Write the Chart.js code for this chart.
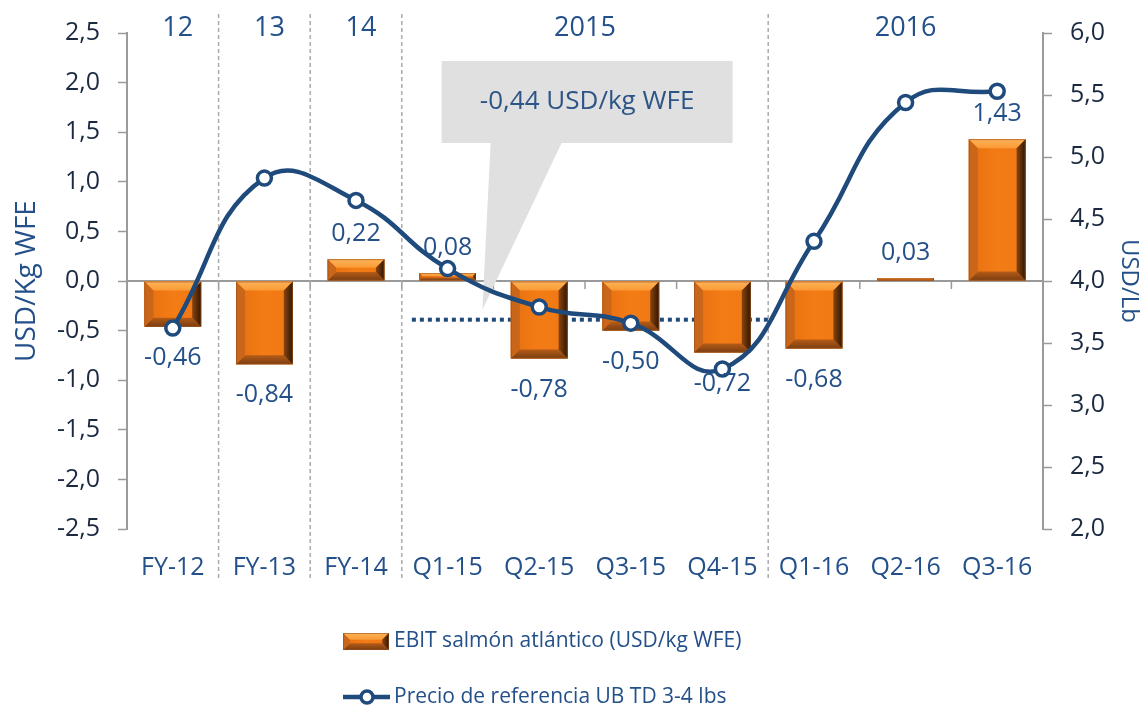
<!DOCTYPE html>
<html>
<head>
<meta charset="utf-8">
<script src="https://cdn.jsdelivr.net/npm/chart.js@4"></script>
<style>
  html, body { margin: 0; padding: 0; background: #fff; }
  #wrap { width: 1143px; height: 710px; }
</style>
</head>
<body>
<div id="wrap"><canvas id="myChart" width="1143" height="710"></canvas></div>
<script>
let categories = ['FY-12', 'FY-13', 'FY-14', 'Q1-15', 'Q2-15', 'Q3-15', 'Q4-15', 'Q1-16', 'Q2-16', 'Q3-16']
let ebit = [-0.46, -0.84, 0.22, 0.08, -0.78, -0.50, -0.72, -0.68, 0.03, 1.43]
let precio = [3.62, 4.83, 4.65, 4.10, 3.79, 3.66, 3.29, 4.32, 5.44, 5.53]

// year groups shown above the plot (first and last category index)
let groupLabels = ['12', '13', '14', '2015', '2016']
let groupFrom = [0, 1, 2, 3, 7]
let groupTo = [0, 1, 2, 6, 9]
let separators = [0, 1, 2, 6]   // dashed line after these categories

// 2015 average line and its callout
let refValue = -0.39
let refFrom = 3
let refTo = 6
let calloutText = '-0,44 USD/kg WFE'

let leftTicks = [-2.5, 2.5, 0.5]
let rightTicks = [2.0, 6.0, 0.5]

let seriesNames = ['EBIT salmón atlántico (USD/kg WFE)', 'Precio de referencia UB TD 3-4 lbs']

const blue = '#1F4A7C'
const textBlue = '#24508A'
const darkText = '#1B2A41'
const axisGrey = '#9a9a9a'
const FONT = "'Open Sans', sans-serif"

const comma = (v, d) => v.toFixed(d).replace('.', ',')

function bevelBar(ctx, left, top, right, bot) {
  let h = bot - top
  let w = right - left
  let b = Math.min(9, h / 2.5, w / 4)
  ctx.save()
  let g = ctx.createLinearGradient(left, 0, right, 0)
  g.addColorStop(0, '#E5700F')
  g.addColorStop(0.5, '#F47C16')
  g.addColorStop(1, '#F07814')
  ctx.fillStyle = g
  ctx.fillRect(left, top, w, h)
  // top bevel
  g = ctx.createLinearGradient(0, top, 0, top + b)
  g.addColorStop(0, '#FFB45A')
  g.addColorStop(1, '#F99A34')
  ctx.fillStyle = g
  ctx.beginPath()
  ctx.moveTo(left, top); ctx.lineTo(right, top); ctx.lineTo(right - b, top + b); ctx.lineTo(left + b, top + b)
  ctx.closePath(); ctx.fill()
  // bottom bevel
  g = ctx.createLinearGradient(0, bot - b, 0, bot)
  g.addColorStop(0, '#B55C18')
  g.addColorStop(1, '#7A3D10')
  ctx.fillStyle = g
  ctx.beginPath()
  ctx.moveTo(left, bot); ctx.lineTo(right, bot); ctx.lineTo(right - b, bot - b); ctx.lineTo(left + b, bot - b)
  ctx.closePath(); ctx.fill()
  // left bevel
  ctx.fillStyle = '#C9661A'
  ctx.beginPath()
  ctx.moveTo(left, top); ctx.lineTo(left + b, top + b); ctx.lineTo(left + b, bot - b); ctx.lineTo(left, bot)
  ctx.closePath(); ctx.fill()
  // right bevel
  g = ctx.createLinearGradient(right - b, 0, right, 0)
  g.addColorStop(0, '#8A440E')
  g.addColorStop(1, '#2E1603')
  ctx.fillStyle = g
  ctx.beginPath()
  ctx.moveTo(right, top); ctx.lineTo(right - b, top + b); ctx.lineTo(right - b, bot - b); ctx.lineTo(right, bot)
  ctx.closePath(); ctx.fill()
  ctx.strokeStyle = 'rgba(150,80,30,0.6)'
  ctx.lineWidth = 1
  ctx.strokeRect(left + 0.5, top + 0.5, w - 1, Math.max(h - 1, 0))
  ctx.restore()
}

const decorPlugin = {
  id: 'decor',
  beforeDatasetsDraw(chart) {
    let ctx = chart.ctx
    let xs = chart.scales.x
    let ys = chart.scales.y
    let area = chart.chartArea
    let step = xs.getPixelForValue(1) - xs.getPixelForValue(0)
    let zero = ys.getPixelForValue(0)
    ctx.save()
    // zero line + small ticks between categories
    ctx.strokeStyle = axisGrey
    ctx.lineWidth = 2
    ctx.beginPath()
    ctx.moveTo(area.left, zero); ctx.lineTo(area.right, zero)
    ctx.stroke()
    ctx.lineWidth = 1.5
    for (let i = 0; i <= categories.length; i++) {
      let x = xs.getPixelForValue(0) + (i - 0.5) * step
      ctx.beginPath(); ctx.moveTo(x, zero); ctx.lineTo(x, zero + 8); ctx.stroke()
    }
    // dashed separators
    ctx.strokeStyle = '#ABABAB'
    ctx.setLineDash([4, 3])
    separators.forEach(i => {
      let x = (xs.getPixelForValue(i) + xs.getPixelForValue(i + 1)) / 2
      ctx.beginPath(); ctx.moveTo(x, 14); ctx.lineTo(x, 580); ctx.stroke()
    })
    ctx.setLineDash([])
    // callout
    let yRef = ys.getPixelForValue(refValue)
    let bx = xs.getPixelForValue(refFrom) - 6
    let bw = 291
    ctx.fillStyle = '#E0E0E0'
    ctx.fillRect(bx, 61, bw, 82)
    let tipX = xs.getPixelForValue(refFrom) + 0.38 * step
    ctx.beginPath()
    ctx.moveTo(bx + 49, 143); ctx.lineTo(bx + 120, 143); ctx.lineTo(tipX, yRef - 10)
    ctx.closePath(); ctx.fill()
    ctx.fillStyle = '#2C5487'
    ctx.font = '26px ' + FONT
    ctx.textAlign = 'center'
    ctx.textBaseline = 'middle'
    ctx.fillText(calloutText, bx + bw / 2, 102)
    // dotted reference line
    ctx.strokeStyle = blue
    ctx.lineWidth = 4
    ctx.setLineDash([4, 4])
    ctx.beginPath()
    ctx.moveTo(xs.getPixelForValue(refFrom) - 0.39 * step, yRef)
    ctx.lineTo(xs.getPixelForValue(refTo) + 0.5 * step, yRef)
    ctx.stroke()
    ctx.setLineDash([])
    // year groups
    ctx.fillStyle = textBlue
    ctx.font = '27px ' + FONT
    groupLabels.forEach((t, i) => {
      let x = (xs.getPixelForValue(groupFrom[i]) + xs.getPixelForValue(groupTo[i])) / 2
      ctx.fillText(t, x + (i < 3 ? 5 : 0), 28)
    })
    ctx.restore()
  },
  afterDatasetDraw(chart, args) {
    if (args.index !== 0) return
    let meta = chart.getDatasetMeta(0)
    meta.data.forEach(bar => {
      let top = Math.min(bar.y, bar.base)
      let bot = Math.max(bar.y, bar.base)
      bevelBar(chart.ctx, bar.x - bar.width / 2, top, bar.x + bar.width / 2, bot)
    })
  },
  afterDatasetsDraw(chart) {
    let ctx = chart.ctx
    let meta = chart.getDatasetMeta(0)
    ctx.save()
    ctx.fillStyle = textBlue
    ctx.font = '25px ' + FONT
    ctx.textAlign = 'center'
    ctx.textBaseline = 'middle'
    meta.data.forEach((bar, i) => {
      let v = ebit[i]
      let y = v >= 0 ? Math.min(bar.y, bar.base) - 25 : Math.max(bar.y, bar.base) + 31
      ctx.fillText(comma(v, 2), bar.x, y)
    })
    ctx.restore()
  },
  afterDraw(chart) {
    let ctx = chart.ctx
    ctx.save()
    bevelBar(ctx, 343, 633, 389, 650)
    ctx.strokeStyle = blue
    ctx.lineWidth = 4.5
    ctx.beginPath(); ctx.moveTo(343, 697); ctx.lineTo(390, 697); ctx.stroke()
    ctx.beginPath(); ctx.arc(367, 697, 6, 0, Math.PI * 2)
    ctx.fillStyle = '#fff'; ctx.fill()
    ctx.lineWidth = 3.5; ctx.stroke()
    ctx.fillStyle = textBlue
    ctx.font = '21px ' + FONT
    ctx.textBaseline = 'middle'
    ctx.fillText(seriesNames[0], 394, 641)
    ctx.fillText(seriesNames[1], 394, 697)
    ctx.restore()
  }
}

let ctx = document.getElementById('myChart').getContext('2d')

let myChart = new Chart(ctx, {
  data: {
    labels: categories,
    datasets: [{
      type: 'bar',
      label: seriesNames[0],
      data: ebit,
      yAxisID: 'y',
      backgroundColor: '#F07814',
      barPercentage: 0.62,
      categoryPercentage: 1,
      order: 1
    }, {
      type: 'line',
      label: seriesNames[1],
      data: precio,
      yAxisID: 'y2',
      borderColor: blue,
      borderWidth: 4.5,
      tension: 0.45,
      pointRadius: 7,
      pointBorderWidth: 3.5,
      pointBackgroundColor: '#fff',
      pointBorderColor: blue,
      order: 0
    }]
  },
  options: {
    responsive: false,
    animation: false,
    devicePixelRatio: 1,
    layout: { padding: { top: 33, left: 0, right: 0, bottom: 0 } },
    plugins: { legend: { display: false }, tooltip: { enabled: false } },
    scales: {
      x: {
        grid: { display: false, drawTicks: false },
        border: { display: false },
        ticks: { color: textBlue, font: { family: FONT, size: 25 }, padding: 24, maxRotation: 0 },
        afterFit: s => { s.height = 181 }
      },
      y: {
        position: 'left',
        min: leftTicks[0], max: leftTicks[1],
        ticks: { stepSize: leftTicks[2], color: darkText, font: { family: FONT, size: 25 }, padding: 18,
                 callback: v => comma(v, 1) },
        grid: { drawOnChartArea: false, tickLength: 9, tickColor: axisGrey, tickWidth: 1.5 },
        border: { color: axisGrey, width: 2 },
        title: { display: true, text: 'USD/Kg WFE', color: textBlue, font: { family: FONT, size: 28 }, padding: { top: 10, bottom: 0 } },
        afterFit: s => { s.width = 127 }
      },
      y2: {
        position: 'right',
        min: rightTicks[0], max: rightTicks[1],
        ticks: { stepSize: rightTicks[2], color: darkText, font: { family: FONT, size: 25 }, padding: 18,
                 callback: v => comma(v, 1) },
        grid: { drawOnChartArea: false, tickLength: 9, tickColor: axisGrey, tickWidth: 1.5 },
        border: { color: axisGrey, width: 2 },
        title: { display: true, text: 'USD/Lb', color: textBlue, font: { family: FONT, size: 24 }, padding: { top: 0, bottom: 0 } },
        afterFit: s => { s.width = 100 }
      }
    }
  },
  plugins: [decorPlugin]
})
</script>
</body>
</html>
